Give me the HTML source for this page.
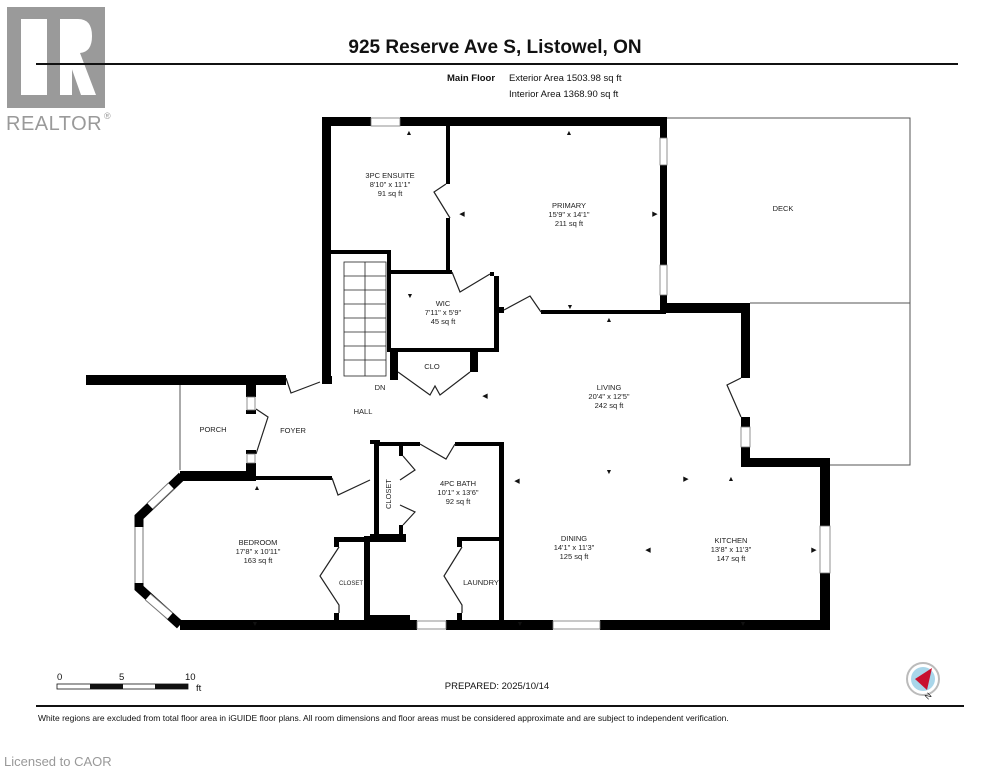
<!DOCTYPE html>
<html><head><meta charset="utf-8"><style>
html,body{margin:0;padding:0;background:#fff;width:995px;height:768px;overflow:hidden}
svg{display:block}
text{font-family:"Liberation Sans",Arial,sans-serif}
</style></head><body>
<svg width="995" height="768" viewBox="0 0 995 768" xmlns="http://www.w3.org/2000/svg">
<rect x="7" y="7" width="98" height="101" fill="#9a9a9a"/>
<rect x="21" y="19" width="26" height="76" fill="#fff"/>
<path d="M60 19 H78 Q92 19 92 36 Q92 52 80 53 L96 95 H81 L68 58 H60 V95 H60 Z" fill="#fff"/>
<rect x="60" y="19" width="12" height="76" fill="#fff"/>
<text x="6" y="130" font-size="20" fill="#9a9a9a" letter-spacing="0.5">REALTOR</text>
<text x="104" y="119" font-size="9" fill="#9a9a9a">®</text>
<text x="495" y="53" font-size="19" font-weight="bold" text-anchor="middle" fill="#111">925 Reserve Ave S, Listowel, ON</text>
<line x1="36" y1="64" x2="958" y2="64" stroke="#111" stroke-width="2"/>
<text x="447" y="81" font-size="9.5" font-weight="bold" fill="#111">Main Floor</text>
<text x="509" y="81" font-size="9.5" fill="#111">Exterior Area 1503.98 sq ft</text>
<text x="509" y="97" font-size="9.5" fill="#111">Interior Area 1368.90 sq ft</text>

<g fill="none" stroke="#555" stroke-width="1">
<polyline points="667,118 910,118 910,465 830,465"/>
<line x1="750" y1="303" x2="910" y2="303"/>
<line x1="180" y1="385" x2="180" y2="470"/>
</g>

<g fill="#000">
<rect x="322" y="117" width="49" height="9"/>
<rect x="400" y="117" width="267" height="9"/>
<rect x="322" y="117" width="9" height="266"/>
<rect x="446" y="126" width="4" height="58"/>
<rect x="446" y="218" width="4" height="56"/>
<rect x="331" y="250" width="60" height="4"/>
<rect x="387" y="250" width="4" height="102"/>
<rect x="390" y="270" width="62" height="4"/>
<rect x="490" y="272" width="4" height="4"/>
<rect x="494" y="276" width="5" height="76"/>
<rect x="390" y="348" width="109" height="4"/>
<rect x="498" y="307" width="6" height="6"/>
<rect x="390" y="352" width="8" height="28"/>
<rect x="470" y="352" width="8" height="20"/>
<rect x="322" y="376" width="10" height="8"/>
<rect x="660" y="118" width="7" height="20"/>
<rect x="660" y="165" width="7" height="100"/>
<rect x="660" y="295" width="7" height="12"/>
<rect x="541" y="310" width="125" height="4"/>
<rect x="660" y="303" width="90" height="10"/>
<rect x="741" y="303" width="9" height="75"/>
<rect x="741" y="417" width="9" height="10"/>
<rect x="741" y="447" width="9" height="20"/>
<rect x="741" y="458" width="89" height="9"/>
<rect x="820" y="458" width="10" height="68"/>
<rect x="820" y="573" width="10" height="57"/>
<rect x="180" y="620" width="237" height="10"/>
<rect x="446" y="620" width="107" height="10"/>
<rect x="600" y="620" width="230" height="10"/>
<rect x="370" y="615" width="40" height="10"/>
<rect x="86" y="375" width="200" height="10"/>
<rect x="246" y="385" width="10" height="12"/>
<rect x="246" y="410" width="10" height="4"/>
<rect x="246" y="450" width="10" height="4"/>
<rect x="246" y="463" width="10" height="15"/>
<rect x="180" y="471" width="76" height="10"/>
<rect x="256" y="476" width="76" height="4"/>
<rect x="374" y="442" width="46" height="4"/>
<rect x="455" y="442" width="49" height="4"/>
<rect x="499" y="442" width="5" height="188"/>
<rect x="374" y="442" width="5" height="98"/>
<rect x="399" y="446" width="4" height="10"/>
<rect x="399" y="525" width="4" height="14"/>
<rect x="370" y="534" width="36" height="8"/>
<rect x="364" y="536" width="6" height="84"/>
<rect x="334" y="537" width="36" height="5"/>
<rect x="334" y="537" width="5" height="10"/>
<rect x="334" y="613" width="5" height="8"/>
<rect x="457" y="537" width="45" height="4"/>
<rect x="457" y="537" width="5" height="10"/>
<rect x="457" y="613" width="5" height="8"/>
<rect x="370" y="440" width="10" height="4"/>
</g>
<!-- bedroom octagon -->
<polyline points="182,476 139,517 139,588 180,625" fill="none" stroke="#000" stroke-width="9" stroke-linejoin="miter"/>
<g stroke="#777" stroke-width="9" fill="none"><line x1="150" y1="506" x2="171" y2="486"/><line x1="139" y1="527" x2="139" y2="583"/><line x1="148" y1="597" x2="170" y2="616"/></g>
<g stroke="#fff" stroke-width="7" fill="none"><line x1="150" y1="506" x2="171" y2="486"/><line x1="139" y1="527" x2="139" y2="583"/><line x1="148" y1="597" x2="170" y2="616"/></g>
<g fill="#fff" stroke="#777" stroke-width="0.8">
<rect x="371" y="118" width="29" height="8"/>
<rect x="660" y="138" width="7" height="27"/>
<rect x="660" y="265" width="7" height="30"/>
<rect x="741" y="427" width="9" height="20"/>
<rect x="820" y="526" width="10" height="47"/>
<rect x="417" y="621" width="29" height="8"/>
<rect x="553" y="621" width="47" height="8"/>
<rect x="247" y="397" width="8" height="13"/>
<rect x="247" y="454" width="8" height="9"/>
</g>
<g stroke="#222" stroke-width="0.8" fill="none">
<rect x="344" y="262" width="42" height="114"/>
<line x1="365" y1="262" x2="365" y2="376"/>
<line x1="344" y1="276" x2="386" y2="276"/><line x1="344" y1="290" x2="386" y2="290"/>
<line x1="344" y1="304" x2="386" y2="304"/><line x1="344" y1="318" x2="386" y2="318"/>
<line x1="344" y1="332" x2="386" y2="332"/><line x1="344" y1="346" x2="386" y2="346"/>
<line x1="344" y1="360" x2="386" y2="360"/>
</g>
<g stroke="#222" stroke-width="1.2" fill="none">
<polyline points="446,184 434,192 450,218"/>
<polyline points="452,272 460,292 490,274"/>
<polyline points="504,310 530,296 541,312"/>
<polyline points="398,372 430,395 435,386 440,395 470,372"/>
<polyline points="286,378 291,393 320,382"/>
<polyline points="256,409 268,417 256,454"/>
<polyline points="332,478 338,495 370,480"/>
<polyline points="420,444 446,459 455,444"/>
<polyline points="403,456 415,470 400,480"/>
<polyline points="403,525 415,512 400,505"/>
<polyline points="741,378 727,385 741,417"/>
<polyline points="339,547 320,576 339,605 339,613"/>
<polyline points="462,547 444,576 462,605 462,613"/>
</g>
<g font-size="7.5" fill="#222" text-anchor="middle">
<text x="390" y="178">3PC ENSUITE</text><text x="390" y="187">8'10" x 11'1"</text><text x="390" y="196">91 sq ft</text>
<text x="569" y="208">PRIMARY</text><text x="569" y="217">15'9" x 14'1"</text><text x="569" y="226">211 sq ft</text>
<text x="783" y="211">DECK</text>
<text x="443" y="306">WIC</text><text x="443" y="315">7'11" x 5'9"</text><text x="443" y="324">45 sq ft</text>
<text x="432" y="369">CLO</text>
<text x="380" y="390">DN</text>
<text x="363" y="414">HALL</text>
<text x="213" y="432">PORCH</text>
<text x="293" y="433">FOYER</text>
<text x="609" y="390">LIVING</text><text x="609" y="399">20'4" x 12'5"</text><text x="609" y="408">242 sq ft</text>
<text x="458" y="486">4PC BATH</text><text x="458" y="495">10'1" x 13'6"</text><text x="458" y="504">92 sq ft</text>
<text x="258" y="545">BEDROOM</text><text x="258" y="554">17'8" x 10'11"</text><text x="258" y="563">163 sq ft</text>
<text x="574" y="541">DINING</text><text x="574" y="550">14'1" x 11'3"</text><text x="574" y="559">125 sq ft</text>
<text x="731" y="543">KITCHEN</text><text x="731" y="552">13'8" x 11'3"</text><text x="731" y="561">147 sq ft</text>
<text x="481" y="585">LAUNDRY</text>
<text x="351" y="585" font-size="6">CLOSET</text>
<text x="0" y="0" transform="translate(391,494) rotate(-90)">CLOSET</text>
</g>
<g font-size="7" fill="#111" text-anchor="middle">
<text x="409" y="135">▲</text><text x="569" y="135">▲</text><text x="410" y="298">▼</text><text x="570" y="309">▼</text>
<text x="609" y="322">▲</text><text x="609" y="474">▼</text><text x="686" y="481">▶</text><text x="731" y="481">▲</text>
<text x="257" y="490">▲</text><text x="255" y="626">▼</text><text x="743" y="626">▼</text><text x="520" y="626">▼</text>
<text x="648" y="552">◀</text><text x="814" y="552">▶</text><text x="517" y="483">◀</text>
<text x="485" y="398">◀</text><text x="655" y="216">▶</text><text x="462" y="216">◀</text>
</g>
<g font-size="9.5" fill="#111">
<text x="57" y="680">0</text><text x="119" y="680">5</text><text x="185" y="680">10</text><text x="196" y="691">ft</text>
</g>
<rect x="57" y="684" width="131" height="5" fill="#fff" stroke="#111" stroke-width="0.8"/>
<rect x="90" y="684" width="33" height="5" fill="#111"/>
<rect x="155" y="684" width="33" height="5" fill="#111"/>
<text x="497" y="689" font-size="9.5" text-anchor="middle" fill="#111">PREPARED: 2025/10/14</text>
<circle cx="923" cy="679" r="16" fill="#fff" stroke="#bbb" stroke-width="2"/>
<circle cx="923" cy="679" r="12" fill="#a9d6ea"/>
<polygon points="915,679 932,668 927,690" fill="#c8102e"/>
<text x="928" y="700" font-size="8" fill="#111" transform="rotate(-45 928 700)">N</text>
<line x1="36" y1="706" x2="964" y2="706" stroke="#111" stroke-width="2"/>
<text x="38" y="721" font-size="8.5" fill="#111">White regions are excluded from total floor area in iGUIDE floor plans. All room dimensions and floor areas must be considered approximate and are subject to independent verification.</text>
<text x="4" y="766" font-size="13" fill="#999">Licensed to CAOR</text>
</svg>
</body></html>
